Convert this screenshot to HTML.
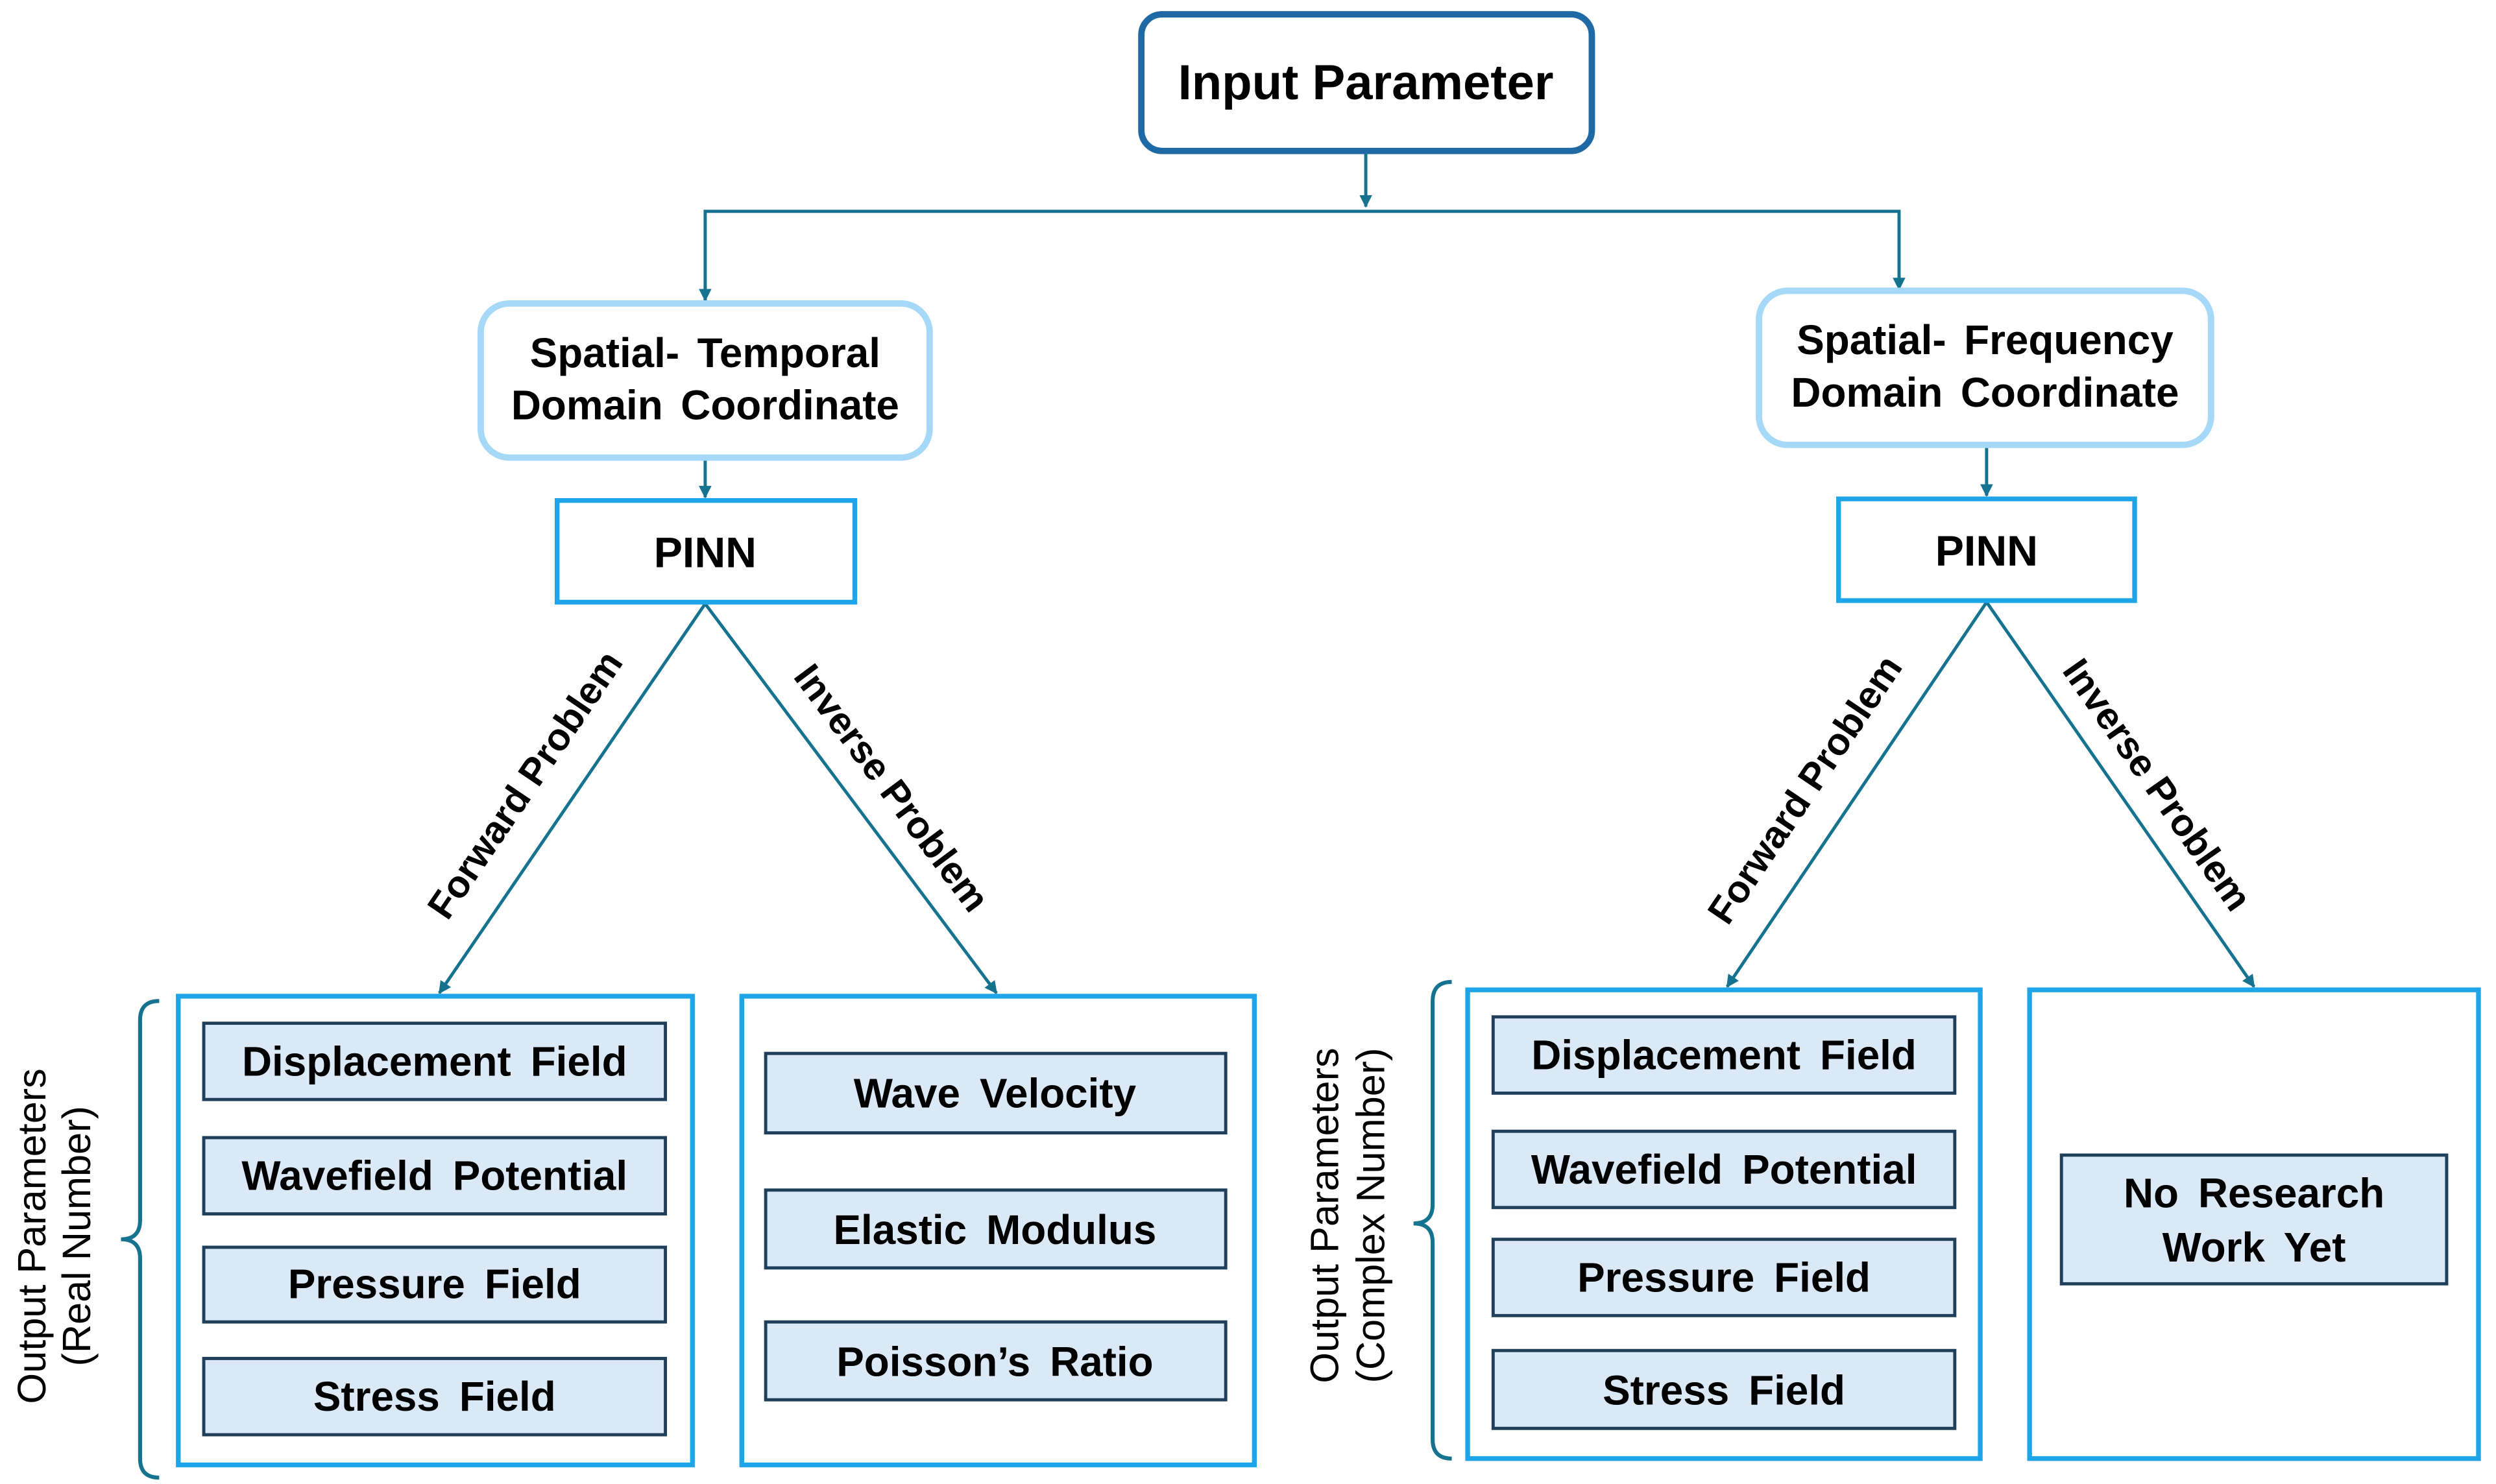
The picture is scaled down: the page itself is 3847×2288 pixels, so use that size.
<!DOCTYPE html>
<html><head><meta charset="utf-8"><style>
html,body{margin:0;padding:0;background:#fff;}
svg{display:block;}
text{font-family:"Liberation Sans",Arial,sans-serif;font-weight:bold;fill:#000;text-anchor:middle;dominant-baseline:central;}
.n{font-weight:normal;}
</style></head><body>
<svg width="3847" height="2288" viewBox="0 0 1568 934" preserveAspectRatio="none" xmlns="http://www.w3.org/2000/svg">
<defs>
<marker id="b" viewBox="0 0 10 10" refX="9" refY="5" markerWidth="8" markerHeight="8" orient="auto" markerUnits="userSpaceOnUse"><path d="M0,0 L10,5 L0,10 z" fill="#16738f"/></marker>
</defs>
<g stroke="#16738f" stroke-width="2" fill="none">
<line x1="858" y1="96" x2="858" y2="130" marker-end="url(#b)"/>
<polyline points="443,189 443,133 1193,133 1193,182"/>
<line x1="443" y1="180" x2="443" y2="189" marker-end="url(#b)"/>
<line x1="1193" y1="173" x2="1193" y2="182" marker-end="url(#b)"/>
<line x1="443" y1="289" x2="443" y2="313" marker-end="url(#b)"/>
<line x1="1248" y1="281" x2="1248" y2="312" marker-end="url(#b)"/>
<line x1="443" y1="380" x2="276" y2="625" marker-end="url(#b)"/>
<line x1="443" y1="380" x2="626" y2="625" marker-end="url(#b)"/>
<line x1="1248" y1="379" x2="1085" y2="621" marker-end="url(#b)"/>
<line x1="1248" y1="379" x2="1416" y2="621" marker-end="url(#b)"/>
</g>
<g stroke="#16738f" stroke-width="2.5" fill="none">
<path d="M100,630 Q88,630 88,642 L88,768 Q88,780 76,780 Q88,780 88,792 L88,918 Q88,930 100,930"/>
<path d="M912,618 Q900,618 900,630 L900,758 Q900,770 888,770 Q900,770 900,782 L900,906 Q900,918 912,918"/>
</g>
<rect x="717" y="9" width="283" height="86" rx="13" fill="#fff" stroke="#1f6aa5" stroke-width="4"/>
<text x="858" y="52" font-size="31">Input Parameter</text>
<g font-size="26" word-spacing="4">
<rect x="302" y="191" width="282" height="97" rx="18" fill="#fff" stroke="#a6d8f7" stroke-width="4"/>
<text x="443" y="222">Spatial- Temporal</text>
<text x="443" y="255">Domain Coordinate</text>
<rect x="1105" y="183" width="284" height="97" rx="18" fill="#fff" stroke="#a6d8f7" stroke-width="4"/>
<text x="1247" y="214">Spatial- Frequency</text>
<text x="1247" y="247">Domain Coordinate</text>
</g>
<g fill="#fff" stroke="#1ea4e8" stroke-width="3">
<rect x="350" y="315" width="187" height="64"/>
<rect x="1155" y="314" width="186" height="64"/>
<rect x="112" y="627" width="323" height="295"/>
<rect x="466" y="627" width="322" height="295"/>
<rect x="922" y="623" width="322" height="295"/>
<rect x="1275" y="623" width="282" height="295"/>
</g>
<text x="443" y="348" font-size="27">PINN</text>
<text x="1248" y="347" font-size="27">PINN</text>
<g font-size="24">
<text transform="translate(330,494) rotate(-55.8)">Forward Problem</text>
<text transform="translate(560,496) rotate(53.3)">Inverse Problem</text>
<text transform="translate(1134,497) rotate(-56)">Forward Problem</text>
<text transform="translate(1355,494) rotate(55)">Inverse Problem</text>
</g>
<g fill="#dbe9f6" stroke="#1f3f5a" stroke-width="2">
<rect x="128" y="644" width="290" height="48"/>
<rect x="128" y="716" width="290" height="48"/>
<rect x="128" y="785" width="290" height="47"/>
<rect x="128" y="855" width="290" height="48"/>
<rect x="481" y="663" width="289" height="50"/>
<rect x="481" y="749" width="289" height="49"/>
<rect x="481" y="832" width="289" height="49"/>
<rect x="938" y="640" width="290" height="48"/>
<rect x="938" y="712" width="290" height="48"/>
<rect x="938" y="780" width="290" height="48"/>
<rect x="938" y="850" width="290" height="49"/>
<rect x="1295" y="727" width="242" height="81"/>
</g>
<g font-size="26" word-spacing="5">
<text x="273" y="668">Displacement Field</text>
<text x="273" y="740">Wavefield Potential</text>
<text x="273" y="808">Pressure Field</text>
<text x="273" y="879">Stress Field</text>
<text x="625" y="688">Wave Velocity</text>
<text x="625" y="774">Elastic Modulus</text>
<text x="625" y="857">Poisson’s Ratio</text>
<text x="1083" y="664">Displacement Field</text>
<text x="1083" y="736">Wavefield Potential</text>
<text x="1083" y="804">Pressure Field</text>
<text x="1083" y="875">Stress Field</text>
<text x="1416" y="751">No Research</text>
<text x="1416" y="785">Work Yet</text>
</g>
<g font-size="25">
<text class="n" transform="translate(20,778) rotate(-90)">Output Parameters</text>
<text class="n" transform="translate(48,778) rotate(-90)">(Real Number)</text>
<text class="n" transform="translate(832,765) rotate(-90)">Output Parameters</text>
<text class="n" transform="translate(861,765) rotate(-90)">(Complex Number)</text>
</g>
</svg>
</body></html>
